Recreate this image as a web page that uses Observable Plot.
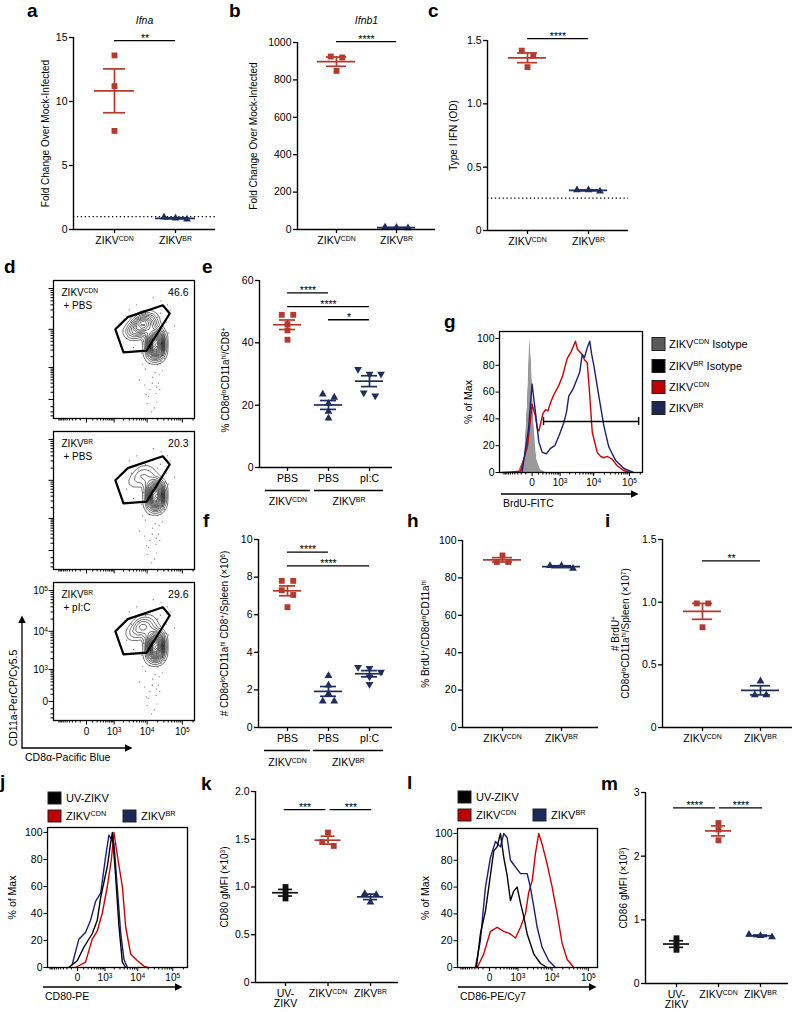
<!DOCTYPE html>
<html><head><meta charset="utf-8">
<script src="https://cdn.jsdelivr.net/npm/d3@7"></script>
<script src="https://cdn.jsdelivr.net/npm/@observablehq/plot@0.6"></script>
<style>
body{margin:0;background:#fff;}
#fig{position:relative;width:800px;height:1012px;overflow:hidden;background:#fff;font-family:"Liberation Sans",Arial,Helvetica,sans-serif;}
</style></head>
<body><div id="fig"></div>
<script>
// ================= DATA =================
const catsZ = ["ZIKV^(CDN)", "ZIKV^(BR)"];
const ifnaCDN = [13.6, 11.2, 7.7], ifnaBR = [0.8, 0.95, 0.88];
const ifnb1CDN = [925, 920, 848], ifnb1BR = [10, 12, 8];
const odCDN = [1.42, 1.38, 1.29], odBR = [0.32, 0.31, 0.32];
const foldBaseline = 1, odLimit = 0.255;

const catsTx = ["PBS", "PBS", "pI:C"];
const groupNames = ["ZIKV^(CDN)", "ZIKV^(BR)"];
const pctCDN = [49, 49, 46, 44, 41], pctBR = [23.5, 22.5, 20.5, 18, 15.8], pctBRpIC = [31.5, 30, 30, 24, 23];
const numCDN = [7.8, 7.8, 7.3, 7.05, 6.4], numBR = [2.75, 2.25, 1.8, 1.4, 1.4], numBRpIC = [3.2, 3.15, 2.95, 2.7, 2.3];
const brduPctCDN = [92, 88.5, 88.5], brduPctBR = [86.5, 86.5, 85];
const brduNumCDN = [0.99, 0.99, 0.80], brduNumBR = [0.37, 0.26, 0.26];

const catsUV = ["UV-\nZIKV", "ZIKV^(CDN)", "ZIKV^(BR)"];
const cd80UV = [1.0, 0.94, 0.88], cd80CDN = [1.57, 1.47, 1.43], cd80BR = [0.93, 0.92, 0.84];
const cd86UV = [0.71, 0.62, 0.53], cd86CDN = [2.52, 2.42, 2.25], cd86BR = [0.77, 0.75, 0.73];

// flow cytometry (intensities)
const flowMajor = [0, 1e3, 1e4, 1e5];
const flowMajorLabels = ["0", "10^(3)", "10^(4)", "10^(5)"];
const flowMinor = [...d3.range(-1000, 0, 100), ...d3.range(100, 1000, 100), ...d3.range(2000, 10000, 1000), ...d3.range(20000, 100000, 10000), 200000];
const pctTicks = [0, 20, 40, 60, 80, 100];
const gateCD11aHi = [[1100, 10000], [2700, 20000], [28000, 39000], [44000, 24500], [9700, 2900], [2000, 2600]];
// sparse events outside the dense populations: [CD8α, CD11a]
const sparseEvents = [[3000,30000],[5000,40000],[25000,50000],[35000,15000],[40000,8000],[30000,3000],[25000,1500],[22000,600],[14000,300],[9000,900],[7000,2500],[6000,400],[12000,150],[18000,80],[10000,-50],[16000,-120],[13000,2000],[20000,1200],[26000,4500],[32000,9000],[8000,5000],[4000,3500],[3500,15000],[2500,6000],[45000,30000],[60000,12000],[15000,60000],[9000,25000],[20000,20000],[11000,40],[7500,1200],[21000,300],[17000,700],[28000,2200],[12500,3300],[19000,-30],[23000,150],[8500,250],[27000,800],[14500,500],[11500,1300],[24000,25000],[5500,18000],[38000,40000],[13500,-200],[9500,60],[31000,1800],[18500,200]];
// dense populations: [CD8α, CD11a, weight]
const flowSamples = [
  {name: "ZIKV^(CDN)", treat: "+ PBS", pct: "46.6", events: [
    [3500, 9000, 1.5], [6000, 12000, 3], [9000, 14500, 2.6], [13000, 16000, 1.2],
    [16500, 7500, 2.5], [17500, 5000, 4.8], [17500, 3300, 4.5], [16500, 2100, 1.6]]},
  {name: "ZIKV^(BR)", treat: "+ PBS", pct: "20.3", events: [
    [3500, 9000, 0.5], [6000, 12000, 1.1], [9000, 14500, 0.9], [13000, 16000, 0.4],
    [16500, 7500, 2.8], [17500, 5000, 5.8], [17500, 3300, 5.5], [16500, 2100, 1.9]]},
  {name: "ZIKV^(BR)", treat: "+ pI:C", pct: "29.6", events: [
    [3500, 9000, 0.8], [6000, 12000, 1.8], [9000, 14500, 1.5], [13000, 16000, 0.6],
    [16500, 7500, 2.6], [17500, 5000, 5.2], [17500, 3300, 5], [16500, 2100, 1.8]]}
];

// histograms [intensity, % of max]
const gIsoCDN = [[-277,0],[-125,10],[-67,50],[-32,100],[-8,80],[19,40],[65,10],[142,2],[271,0]];
const gIsoBR = [[-277,0],[-110,12],[-55,60],[-28,96],[0,62],[30,22],[80,4],[200,0]];
const gCDN = [[-1124,0],[-219,1],[-67,20],[-21,40],[0,51],[48,42],[77,33],[110,31],[142,36],[200,44],[271,47],[350,46],[448,52],[600,58],[901,65],[1200,72],[1680,85],[2200,90],[2990,98],[3400,92],[4700,88],[5500,84],[6560,82],[7620,60],[9120,30],[12600,15],[15700,12],[19000,11],[24000,12],[28000,11],[33000,10],[45600,5],[68500,1.5],[106600,0]];
const gBR = [[-176,1],[-52,32],[0,66],[48,45],[107,23],[181,15],[300,14],[448,18],[650,20],[901,27],[1310,37],[1600,45],[1880,57],[2500,62],[3360,70],[4000,75],[4700,88],[5500,86],[6560,93],[7740,98],[8800,88],[10100,80],[13990,57],[19300,35],[26600,19],[41200,9],[70000,3],[106600,1],[130000,0]];
const gGate = {x1: 215, x2: 180000, y: 38};

const jUV = [[-154,0],[-4,5],[102,15],[322,25],[526,35],[706,52],[1200,75],[1530,92],[1740,100],[2200,68],[2780,31],[3530,4],[4440,0]];
const jBR = [[-84,2],[18,21],[137,26],[268,35],[450,49],[706,55],[1050,82],[1350,98],[1960,92],[2470,60],[3140,26],[3940,6],[5000,0]];
const jCDN = [[-28,0],[137,4],[322,21],[526,27],[800,40],[1200,60],[1620,80],[1960,100],[2600,80],[3530,60],[4440,30],[6230,10],[9800,5],[15100,1],[18900,0]];

const lUV = [[-254,0],[-154,25],[-57,42],[13,69],[62,87],[124,90],[199,100],[292,82],[407,69],[549,50],[723,57],[940,60],[1210,48],[1530,38],[1940,25],[3060,10],[4760,3],[7340,0]];
const lBR = [[-282,0],[-154,20],[-57,60],[13,82],[92,94],[199,90],[292,100],[407,97],[549,80],[826,75],[1210,70],[1940,70],[2420,60],[3060,45],[3820,30],[5280,15],[8140,5],[12500,0]];
const lCDN = [[-232,0],[-87,10],[13,27],[124,30],[292,27],[549,25],[826,22],[1210,30],[1720,40],[2160,56],[2750,65],[3400,85],[4240,100],[5280,92],[7340,77],[10100,60],[13950,40],[19100,18],[26300,6],[39900,0]];

// ================= STYLE =================
const FONT = '"Liberation Sans", Arial, Helvetica, sans-serif';
const RED = "#b5392c", NAVY = "#1f2d5c", BLACK = "#111";
const HRED = "#d10000", HNAVY = "#1a1f7a";
const fig = document.getElementById("fig");

function supify(root) {
  root.querySelectorAll("text, tspan").forEach(el => {
    if (el.children.length) return;
    const s = el.textContent;
    if (!s.includes("^(")) return;
    el.textContent = "";
    const NS = "http://www.w3.org/2000/svg";
    const ts = t => { const e = document.createElementNS(NS, "tspan"); e.textContent = t; return e; };
    const re = /\^\(([^)]*)\)/g; let last = 0, m;
    while ((m = re.exec(s))) {
      if (m.index > last) el.appendChild(ts(s.slice(last, m.index)));
      const sup = ts(m[1]);
      sup.setAttribute("baseline-shift", "super");
      sup.style.fontSize = "66%";
      el.appendChild(sup);
      last = re.lastIndex;
    }
    if (last < s.length) el.appendChild(ts(s.slice(last)));
  });
}

function place(opts, left, top) {
  const svg = Plot.plot({...opts, style: {fontFamily: FONT, fontSize: "10px", background: "transparent", overflow: "visible", color: "black"}});
  supify(svg);
  svg.style.position = "absolute";
  svg.style.left = left + "px";
  svg.style.top = top + "px";
  svg.style.maxWidth = "none";
  fig.appendChild(svg);
}

function swarm(vals, ppu, sep, step) {
  const idx = d3.range(vals.length).sort((a, b) => vals[b] - vals[a]);
  const offs = new Array(vals.length).fill(0);
  let cl = [];
  const flush = () => { cl.forEach((k, j) => offs[k] = (j - (cl.length - 1) / 2) * step); cl = []; };
  idx.forEach(k => { if (cl.length && (vals[cl[0]] - vals[k]) * ppu >= sep) flush(); cl.push(k); });
  flush();
  return offs;
}

const fmt1 = d => d === 0 ? "0" : d.toFixed(1);

function dotPanel(c) {
  const mt = c.yTop - c.top, mb = c.mb ?? 45, mr = 6;
  const ml = c.axisX - c.left;
  const width = c.right - c.left + mr;
  const frameH = c.yZero - c.yTop;
  const height = mt + frameH + mb;
  const n = c.catPx.length;
  const sp = (c.catPx[n - 1] - c.catPx[0]) / (n - 1);
  const xl = -(c.catPx[0] - c.axisX) / sp;
  const xr = (n - 1) + (c.right - c.catPx[n - 1]) / sp;
  const ppu = frameH / c.yMax;
  const stats = [], dots = [];
  c.groups.forEach(g => {
    const offs = swarm(g.values, ppu, c.sep ?? 5.5, c.step ?? 11.5);
    const pts = g.values.map((v, k) => ({x: g.i + offs[k] / sp, y: v}));
    dots.push(Plot.dot(pts, {x: "x", y: "y", symbol: g.symbol, fill: g.color, stroke: "none",
      r: g.symbol === "square" ? 3.3 : 2.9, rotate: g.flip ? 180 : 0}));
    const m = d3.mean(g.values), s = d3.deviation(g.values) / Math.sqrt(g.values.length);
    stats.push({i: g.i, m, lo: m - s, hi: m + s, color: g.color});
  });
  const mh = (c.meanHalf ?? 19) / sp, ch = (c.capHalf ?? 10) / sp;
  const marks = [];
  if (c.dotted != null) marks.push(Plot.ruleY([c.dotted], {stroke: "black", strokeWidth: 1.2, strokeDasharray: "1.3,2.6"}));
  marks.push(
    Plot.ruleY(stats, {y: "m", x1: d => d.i - mh, x2: d => d.i + mh, stroke: "color", strokeWidth: 1.7}),
    Plot.ruleY(stats, {y: "lo", x1: d => d.i - ch, x2: d => d.i + ch, stroke: "color", strokeWidth: 1.7}),
    Plot.ruleY(stats, {y: "hi", x1: d => d.i - ch, x2: d => d.i + ch, stroke: "color", strokeWidth: 1.7}),
    Plot.ruleX(stats, {x: "i", y1: "lo", y2: "hi", stroke: "color", strokeWidth: 1.7}),
    ...dots,
    Plot.ruleX([xl], {stroke: "black", strokeWidth: 1.4}),
    Plot.ruleY([0], {stroke: "black", strokeWidth: 1.4}),
    Plot.axisY({ticks: c.yTicks, tickSize: 4, tickPadding: 2, tickFormat: c.yFmt ?? (d => String(d)), label: null, strokeWidth: 1.3, fontSize: 10.5}),
    Plot.axisX({ticks: d3.range(n), tickSize: 4, tickPadding: 3, tickFormat: i => c.cats[i], label: null, strokeWidth: 1.3, fontSize: 10.5}),
    Plot.text([c.ylab], {text: d => d, frameAnchor: "left", rotate: -90, dx: -(c.axisX - c.ylabX), dy: c.ylabDy ?? 0, textAnchor: "middle", lineAnchor: "middle", fontSize: 10})
  );
  if (c.sig) marks.push(
    Plot.ruleY(c.sig, {y: "y", x1: "a", x2: "b", stroke: "black", strokeWidth: 1.3}),
    Plot.text(c.sig, {x: d => (d.a + d.b) / 2, y: "y", text: "t", lineAnchor: "bottom", dy: 1, fontSize: 10.5})
  );
  if (c.title) marks.push(Plot.text([c.title], {text: d => d, frameAnchor: "top", dy: c.titleY - c.yTop, fontStyle: "italic", lineAnchor: "middle", fontSize: 10.5}));
  if (c.groupRow) marks.push(
    Plot.ruleY(c.groupRow, {y: () => 0, x1: "a", x2: "b", dy: c.groupLineDy, stroke: "black", strokeWidth: 1.3}),
    Plot.text(c.groupRow, {x: d => (d.a + d.b) / 2, y: () => 0, text: "name", dy: c.groupTextDy, lineAnchor: "middle", fontSize: 10.5})
  );
  place({width, height, marginLeft: ml, marginRight: mr, marginTop: mt, marginBottom: mb,
    x: {domain: [xl, xr]}, y: {domain: [0, c.yMax]}, color: {type: "identity"}, marks}, c.left, c.top);
}

const inDom = (t, d) => t.filter(v => v >= d[0] && v <= d[1]);

function flowPanel(c) {
  const xd = [-1500, 220000], yd = [-380, 157000];
  const ml = c.frameL - c.left, mt = c.frameT - c.top, mr = 6, mb = c.labels ? 22 : 8;
  const width = c.frameR - c.left + mr, height = mt + (c.frameB - c.frameT) + mb;
  const gate = [...gateCD11aHi, gateCD11aHi[0]];
  const fmt = d => c.labels ? flowMajorLabels[flowMajor.indexOf(d)] : "";
  place({width, height, marginLeft: ml, marginTop: mt, marginRight: mr, marginBottom: mb,
    x: {type: "symlog", constant: 200, domain: xd},
    y: {type: "symlog", constant: 200, domain: yd},
    marks: [
      Plot.dot(sparseEvents, {x: d => d[0], y: d => d[1], r: 0.6, fill: "#666", stroke: "none"}),
      Plot.density(c.s.events, {x: d => d[0], y: d => d[1], weight: d => d[2], bandwidth: 3.6, thresholds: 18, stroke: "black", strokeWidth: 0.55}),
      Plot.line(gate, {x: d => d[0], y: d => d[1], stroke: "black", strokeWidth: 2.2}),
      Plot.frame({stroke: "black", strokeWidth: 1.3}),
      Plot.axisX({ticks: inDom(flowMinor, xd), tickSize: 2.5, tickFormat: () => "", label: null}),
      Plot.axisX({ticks: flowMajor, tickSize: 4.5, tickPadding: 3, tickFormat: fmt, label: null, fontSize: 10}),
      Plot.axisY({ticks: inDom(flowMinor, yd), tickSize: 2.5, tickFormat: () => "", label: null}),
      Plot.axisY({ticks: flowMajor, tickSize: 4.5, tickPadding: 1, tickFormat: fmt, label: null, fontSize: 10}),
      Plot.text([c.s.name], {text: d => d, frameAnchor: "top-left", dx: 8, dy: 12, lineAnchor: "middle", fontSize: 10}),
      Plot.text([c.s.treat], {text: d => d, frameAnchor: "top-left", dx: 10, dy: 25, lineAnchor: "middle", fontSize: 10}),
      Plot.text([c.s.pct], {text: d => d, frameAnchor: "top-right", dx: -6, dy: 12, textAnchor: "end", lineAnchor: "middle", fontSize: 10.5})
    ]}, c.left, c.top);
}

function histPanel(c) {
  const ml = c.frameL - c.left, mt = c.frameT - c.top, mr = 8, mb = 18;
  const width = c.frameR - c.left + mr, height = mt + (c.frameB - c.frameT) + mb;
  const marks = [];
  c.series.forEach(s => {
    if (s.fill) marks.push(Plot.areaY(s.data, {x: d => d[0], y: d => d[1], fill: s.fill, stroke: s.stroke ?? "none", strokeWidth: 0.8}));
    else marks.push(Plot.line(s.data, {x: d => d[0], y: d => d[1], stroke: s.stroke, strokeWidth: 1.4}));
  });
  if (c.gate) marks.push(
    Plot.ruleY([c.gate], {y: "y", x1: "x1", x2: "x2", stroke: "black", strokeWidth: 1.4}),
    Plot.ruleX([c.gate.x1, c.gate.x2], {y1: c.gate.y - 3, y2: c.gate.y + 3, stroke: "black", strokeWidth: 1.4})
  );
  marks.push(
    Plot.frame({stroke: "black", strokeWidth: 1.3}),
    Plot.axisY({ticks: pctTicks, tickSize: 3.5, tickPadding: 1.5, label: null, fontSize: 10.5}),
    Plot.axisX({ticks: inDom(flowMinor, c.xDomain), tickSize: 2.5, tickFormat: () => "", label: null}),
    Plot.axisX({ticks: flowMajor, tickSize: 4, tickPadding: 2, tickFormat: d => flowMajorLabels[flowMajor.indexOf(d)], label: null, fontSize: 10}),
    Plot.text([c.ylab], {text: d => d, frameAnchor: "left", rotate: -90, dx: -(c.frameL - c.ylabX), textAnchor: "middle", lineAnchor: "middle", fontSize: 10.5})
  );
  place({width, height, marginLeft: ml, marginTop: mt, marginRight: mr, marginBottom: mb,
    x: {type: "symlog", constant: 200, domain: c.xDomain},
    y: {domain: [0, c.yMax]}, marks}, c.left, c.top);
}

// ================= PANELS =================
dotPanel({left: 30, top: 0, axisX: 73, right: 215, yTop: 37, yZero: 229, yMax: 15, yTicks: [0, 5, 10, 15],
  cats: catsZ, catPx: [114, 175], meanHalf: 20, capHalf: 11,
  groups: [{i: 0, values: ifnaCDN, color: RED, symbol: "square"}, {i: 1, values: ifnaBR, color: NAVY, symbol: "triangle"}],
  dotted: foldBaseline, sig: [{a: 0, b: 1, y: 14.75, t: "**"}],
  ylab: "Fold Change Over Mock-Infected", ylabX: 45, title: "Ifna", titleY: 20});

dotPanel({left: 240, top: 0, axisX: 297, right: 435, yTop: 42, yZero: 229, yMax: 1000, yTicks: [0, 200, 400, 600, 800, 1000],
  cats: catsZ, catPx: [336, 396], meanHalf: 19, capHalf: 10,
  groups: [{i: 0, values: ifnb1CDN, color: RED, symbol: "square"}, {i: 1, values: ifnb1BR, color: NAVY, symbol: "triangle"}],
  sig: [{a: 0, b: 1, y: 1005, t: "****"}],
  ylab: "Fold Change Over Mock-Infected", ylabX: 253, title: "Ifnb1", titleY: 20});

dotPanel({left: 440, top: 0, axisX: 487, right: 628, yTop: 40, yZero: 230, yMax: 1.5, yTicks: [0, 0.5, 1, 1.5], yFmt: fmt1,
  cats: catsZ, catPx: [527, 588], meanHalf: 19, capHalf: 10,
  groups: [{i: 0, values: odCDN, color: RED, symbol: "square"}, {i: 1, values: odBR, color: NAVY, symbol: "triangle"}],
  dotted: odLimit, sig: [{a: 0, b: 1, y: 1.515, t: "****"}],
  ylab: "Type I IFN (OD)", ylabX: 453});

dotPanel({left: 210, top: 255, axisX: 259, right: 392, yTop: 280, yZero: 467, yMax: 60, yTicks: [0, 20, 40, 60],
  cats: catsTx, catPx: [287, 328, 369], meanHalf: 14, capHalf: 8,
  groups: [{i: 0, values: pctCDN, color: RED, symbol: "square"}, {i: 1, values: pctBR, color: NAVY, symbol: "triangle"},
           {i: 2, values: pctBRpIC, color: NAVY, symbol: "triangle", flip: true}],
  sig: [{a: 0, b: 1, y: 56, t: "****"}, {a: 0, b: 2, y: 51.6, t: "****"}, {a: 1, b: 2, y: 47.4, t: "*"}],
  groupRow: [{name: groupNames[0], a: -0.54, b: 0.56}, {name: groupNames[1], a: 0.66, b: 2.34}], groupLineDy: 23, groupTextDy: 34,
  ylab: "% CD8α^(lo)CD11a^(hi)/CD8^(+)", ylabX: 225, ylabDy: 6});

dotPanel({left: 210, top: 505, axisX: 258, right: 392, yTop: 539, yZero: 727, yMax: 10, yTicks: [0, 2, 4, 6, 8, 10],
  cats: catsTx, catPx: [287, 328, 369], meanHalf: 14, capHalf: 8,
  groups: [{i: 0, values: numCDN, color: RED, symbol: "square"}, {i: 1, values: numBR, color: NAVY, symbol: "triangle"},
           {i: 2, values: numBRpIC, color: NAVY, symbol: "triangle", flip: true}],
  sig: [{a: 0, b: 1, y: 9.33, t: "****"}, {a: 0, b: 2, y: 8.6, t: "****"}],
  groupRow: [{name: groupNames[0], a: -0.56, b: 0.56}, {name: groupNames[1], a: 0.63, b: 2.34}], groupLineDy: 23, groupTextDy: 35,
  ylab: "# CD8α^(lo)CD11a^(hi) CD8^(+)/Spleen (×10^(6))", ylabX: 224});

dotPanel({left: 412, top: 505, axisX: 462, right: 598, yTop: 540, yZero: 727, yMax: 100, yTicks: [0, 20, 40, 60, 80, 100],
  cats: catsZ, catPx: [502, 561], meanHalf: 19, capHalf: 10,
  groups: [{i: 0, values: brduPctCDN, color: RED, symbol: "square"}, {i: 1, values: brduPctBR, color: NAVY, symbol: "triangle"}],
  ylab: "% BrdU^(+)/CD8α^(lo)CD11a^(hi)", ylabX: 425});

dotPanel({left: 600, top: 505, axisX: 662, right: 792, yTop: 539, yZero: 727, yMax: 1.5, yTicks: [0, 0.5, 1, 1.5], yFmt: fmt1,
  cats: catsZ, catPx: [702, 760], meanHalf: 19, capHalf: 10,
  groups: [{i: 0, values: brduNumCDN, color: RED, symbol: "square"}, {i: 1, values: brduNumBR, color: NAVY, symbol: "triangle"}],
  sig: [{a: 0, b: 1, y: 1.33, t: "**"}],
  ylab: "# BrdU^(+)\nCD8α^(lo)CD11a^(hi)/Spleen (×10^(7))", ylabX: 620});

dotPanel({left: 210, top: 770, axisX: 255, right: 398, yTop: 791, yZero: 982, yMax: 2, yTicks: [0, 0.5, 1, 1.5, 2], yFmt: fmt1,
  cats: catsUV, catPx: [285, 327.5, 370], meanHalf: 13, capHalf: 7, mb: 30,
  groups: [{i: 0, values: cd80UV, color: BLACK, symbol: "square"}, {i: 1, values: cd80CDN, color: RED, symbol: "square"},
           {i: 2, values: cd80BR, color: NAVY, symbol: "triangle"}],
  sig: [{a: -0.03, b: 0.95, y: 1.81, t: "***"}, {a: 1.05, b: 2.03, y: 1.81, t: "***"}],
  ylab: "CD80 gMFI (×10^(3))", ylabX: 224});

dotPanel({left: 610, top: 770, axisX: 645, right: 788, yTop: 792, yZero: 983, yMax: 3, yTicks: [0, 1, 2, 3],
  cats: catsUV, catPx: [676, 718, 760], meanHalf: 13, capHalf: 7, mb: 30,
  groups: [{i: 0, values: cd86UV, color: BLACK, symbol: "square"}, {i: 1, values: cd86CDN, color: RED, symbol: "square"},
           {i: 2, values: cd86BR, color: NAVY, symbol: "triangle"}],
  sig: [{a: -0.07, b: 0.93, y: 2.76, t: "****"}, {a: 1.02, b: 2.05, y: 2.76, t: "****"}],
  ylab: "CD86 gMFI (×10^(3))", ylabX: 623});

// flow contour plots
flowPanel({left: 20, top: 276, frameL: 53, frameR: 194, frameT: 280, frameB: 418, s: flowSamples[0], labels: false});
flowPanel({left: 20, top: 427, frameL: 53, frameR: 194, frameT: 431, frameB: 569, s: flowSamples[1], labels: false});
flowPanel({left: 20, top: 578, frameL: 53, frameR: 194, frameT: 582, frameB: 720, s: flowSamples[2], labels: true});

// histograms
histPanel({left: 460, top: 325, frameL: 499, frameR: 642, frameT: 331, frameB: 472, xDomain: [-1400, 230000], yMax: 105.2,
  series: [{data: gIsoBR, fill: "#111"}, {data: gIsoCDN, fill: "#9a9a9a"}, {data: gCDN, stroke: HRED}, {data: gBR, stroke: HNAVY}],
  gate: gGate, ylab: "% of Max", ylabX: 468});
histPanel({left: 0, top: 822, frameL: 47, frameR: 187, frameT: 827, frameB: 967, xDomain: [-1220, 262000], yMax: 103.7,
  series: [{data: jCDN, stroke: HRED}, {data: jBR, stroke: HNAVY}, {data: jUV, stroke: "black"}],
  ylab: "% of Max", ylabX: 12});
histPanel({left: 415, top: 823, frameL: 457, frameR: 597, frameT: 828, frameB: 967, xDomain: [-1290, 178000], yMax: 103.7,
  series: [{data: lCDN, stroke: HRED}, {data: lBR, stroke: HNAVY}, {data: lUV, stroke: "black"}],
  ylab: "% of Max", ylabX: 425});

// ================= OVERLAY (letters, arrows, legends) =================
const letters = [["a",27,17],["b",229,17],["c",428,17],["d",4,273],["e",202,273],["g",444,328],["f",203,527],["h",407,527],["i",605,527],["j",0,788],["k",201,790],["l",407,789],["m",601,790]];
const legG = [["ZIKV^(CDN) Isotype","#5c5c5c",344],["ZIKV^(BR) Isotype","#000",366],["ZIKV^(CDN)","#c00000",387],["ZIKV^(BR)","#1c2857",408]];
let ov = `<svg xmlns="http://www.w3.org/2000/svg" width="800" height="1012" style="position:absolute;left:0;top:0;overflow:visible;font-family:${FONT}">
<defs><marker id="ah" viewBox="0 0 10 10" refX="8" refY="5" markerWidth="6" markerHeight="6" orient="auto-start-reverse"><path d="M0,0L10,5L0,10z" fill="black"/></marker></defs>`;
letters.forEach(([t, x, y]) => ov += `<text x="${x}" y="${y}" font-size="19" font-weight="bold">${t}</text>`);
ov += `<path d="M22,617 L22,748 L131,748" fill="none" stroke="black" stroke-width="1.3" marker-start="url(#ah)" marker-end="url(#ah)"/>`;
ov += `<text x="25" y="761" font-size="10.5">CD8α-Pacific Blue</text>`;
ov += `<text transform="translate(17,698) rotate(-90)" text-anchor="middle" font-size="10.5">CD11a-PerCP/Cy5.5</text>`;
ov += `<path d="M501,494 L637,494" stroke="black" stroke-width="1.3" marker-end="url(#ah)"/>`;
ov += `<text x="503" y="507" font-size="10.5">BrdU-FITC</text>`;
ov += `<path d="M43,987 L181,987" stroke="black" stroke-width="1.3" marker-end="url(#ah)"/>`;
ov += `<text x="45" y="1000" font-size="10.5">CD80-PE</text>`;
ov += `<path d="M458,987 L595,987" stroke="black" stroke-width="1.3" marker-end="url(#ah)"/>`;
ov += `<text x="460" y="1000" font-size="10.5">CD86-PE/Cy7</text>`;
legG.forEach(([t, col, cy]) => {
  ov += `<rect x="652" y="${cy - 6.5}" width="13" height="13" fill="${col}" stroke="#222" stroke-width="1"/>`;
  ov += `<text x="669" y="${cy + 4}" font-size="11">${t}</text>`;
});
const legJL = [["UV-ZIKV","#000",0,0],["ZIKV^(CDN)","#c00000",0,18],["ZIKV^(BR)","#1c2857",75,18]];
[[48,792],[458,791]].forEach(([x0, y0]) => legJL.forEach(([t, col, dx, dy]) => {
  ov += `<rect x="${x0 + dx}" y="${y0 + dy}" width="13" height="12" fill="${col}" stroke="#222" stroke-width="1"/>`;
  ov += `<text x="${x0 + dx + 18}" y="${y0 + dy + 10}" font-size="11">${t}</text>`;
}));
ov += `</svg>`;
const holder = document.createElement("div");
holder.style.cssText = "position:absolute;left:0;top:0;width:800px;height:1012px;pointer-events:none";
holder.innerHTML = ov;
fig.appendChild(holder);
supify(holder);
</script>
</body></html>
